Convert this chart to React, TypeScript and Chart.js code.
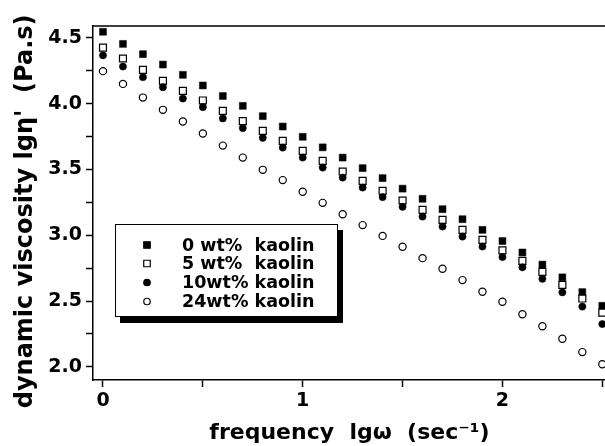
import React, { useEffect, useRef } from 'react';
import { Chart, registerables } from 'chart.js';

Chart.register(...registerables);

// lg(omega), sec^-1
const lgOmega = [0, 0.1, 0.2, 0.3, 0.4, 0.5, 0.6, 0.7, 0.8, 0.9, 1.0, 1.1, 1.2, 1.3, 1.4, 1.5, 1.6, 1.7, 1.8, 1.9, 2.0, 2.1, 2.2, 2.3, 2.4, 2.5];

// lg eta' (Pa.s)
const kaolin0 = [4.546, 4.454, 4.376, 4.297, 4.219, 4.138, 4.058, 3.983, 3.905, 3.826, 3.748, 3.668, 3.590, 3.510, 3.434, 3.354, 3.277, 3.198, 3.122, 3.041, 2.956, 2.869, 2.777, 2.680, 2.568, 2.464];
const kaolin5 = [4.426, 4.343, 4.257, 4.173, 4.097, 4.024, 3.945, 3.867, 3.793, 3.717, 3.641, 3.565, 3.484, 3.413, 3.337, 3.264, 3.193, 3.117, 3.041, 2.965, 2.885, 2.805, 2.722, 2.623, 2.519, 2.412];
const kaolin10 = [4.367, 4.282, 4.201, 4.125, 4.039, 3.973, 3.888, 3.814, 3.740, 3.666, 3.590, 3.514, 3.438, 3.362, 3.290, 3.216, 3.142, 3.066, 2.990, 2.914, 2.834, 2.756, 2.669, 2.566, 2.458, 2.325];
const kaolin24 = [4.247, 4.150, 4.046, 3.953, 3.864, 3.773, 3.681, 3.590, 3.497, 3.419, 3.330, 3.246, 3.160, 3.077, 2.995, 2.912, 2.826, 2.745, 2.659, 2.571, 2.495, 2.400, 2.309, 2.213, 2.112, 2.020];

const seriesLabels = ['0 wt%  kaolin', '5 wt%  kaolin', '10wt% kaolin', '24wt% kaolin'];

const xTicks = [0, 0.5, 1, 1.5, 2, 2.5];
const yTicks = [2.0, 2.25, 2.5, 2.75, 3.0, 3.25, 3.5, 3.75, 4.0, 4.25, 4.5];

const xTitle = 'frequency  lgω  (sec⁻¹)';
const yTitle = "dynamic viscosity lgη'  (Pa.s)  ";

const FONT = "'DejaVu Sans', 'Liberation Sans', sans-serif";

function drawMarker(ctx: CanvasRenderingContext2D, style: string, filled: boolean, x: number, y: number, size: number) {
  ctx.save();
  ctx.lineWidth = 1.2;
  ctx.strokeStyle = '#000';
  ctx.fillStyle = filled ? '#000' : '#fff';
  ctx.beginPath();
  if (style === 'rect') {
    ctx.rect(x - size / 2, y - size / 2, size, size);
  } else {
    ctx.arc(x, y, size / 2, 0, Math.PI * 2);
  }
  ctx.fill();
  ctx.stroke();
  ctx.restore();
}

const framePlugin = {
  id: 'frame',
  beforeDatasetsDraw(chart: any) {
    const { ctx, chartArea } = chart;
    ctx.save();
    ctx.strokeStyle = '#000';
    ctx.lineWidth = 1.5;
    ctx.beginPath();
    ctx.moveTo(chartArea.left, chartArea.top);
    ctx.lineTo(chartArea.right, chartArea.top);
    ctx.lineTo(chartArea.right, chartArea.bottom);
    ctx.stroke();
    ctx.restore();
  },
};

const boxLegendPlugin = {
  id: 'boxLegend',
  afterDatasetsDraw(chart: any) {
    const { ctx, chartArea } = chart;
    const x0 = chartArea.left + 22;
    const y0 = chartArea.top + 198;
    const w = 223;
    const h = 93;
    ctx.save();
    ctx.fillStyle = '#000';
    ctx.fillRect(x0 + 5, y0 + 6, w, h);
    ctx.fillStyle = '#fff';
    ctx.fillRect(x0, y0, w, h);
    ctx.strokeStyle = '#000';
    ctx.lineWidth = 1;
    ctx.strokeRect(x0 + 0.5, y0 + 0.5, w - 1, h - 1);
    const rows = [21, 39.5, 58.5, 77.5];
    chart.data.datasets.forEach((ds: any, i: number) => {
      const cy = y0 + rows[i];
      drawMarker(ctx, ds.pointStyle, ds.backgroundColor === '#000', x0 + 32, cy, 6.5);
      ctx.fillStyle = '#000';
      ctx.font = `bold 17.5px ${FONT}`;
      ctx.textBaseline = 'middle';
      ctx.textAlign = 'left';
      ctx.fillText(ds.label, x0 + 67, cy + 1);
    });
    ctx.restore();
  },
};

export default function App() {
  const canvasRef = useRef<HTMLCanvasElement | null>(null);

  useEffect(() => {
    if (!canvasRef.current) return;
    const toPts = (ys: number[]) => lgOmega.map((x, i) => ({ x, y: ys[i] }));
    const tickFont = { family: FONT, size: 19, weight: 'bold' as const };
    const chart = new Chart(canvasRef.current, {
      type: 'scatter',
      data: {
        datasets: [
          { label: seriesLabels[0], data: toPts(kaolin0), pointStyle: 'rect', pointRadius: 4.9, backgroundColor: '#000', borderColor: '#000', borderWidth: 0.5, order: 3, clip: false },
          { label: seriesLabels[1], data: toPts(kaolin5), pointStyle: 'rect', pointRadius: 4.9, backgroundColor: '#fff', borderColor: '#000', borderWidth: 1.2, order: 2, clip: false },
          { label: seriesLabels[2], data: toPts(kaolin10), pointStyle: 'circle', pointRadius: 3.6, backgroundColor: '#000', borderColor: '#000', borderWidth: 0.5, order: 1, clip: false },
          { label: seriesLabels[3], data: toPts(kaolin24), pointStyle: 'circle', pointRadius: 3.6, backgroundColor: '#fff', borderColor: '#000', borderWidth: 1.2, order: 0, clip: false },
        ],
      },
      options: {
        animation: false,
        responsive: true,
        maintainAspectRatio: false,
        layout: { padding: { top: 26, right: 5, left: 0, bottom: 0 } },
        plugins: { legend: { display: false }, tooltip: { enabled: false } },
        scales: {
          x: {
            type: 'linear',
            min: -0.05,
            max: 2.518,
            afterBuildTicks: (s: any) => { s.ticks = xTicks.map((v) => ({ value: v })); },
            afterFit: (s: any) => { s.height = 66; },
            ticks: {
              color: '#000',
              font: tickFont,
              padding: 3,
              maxRotation: 0,
              autoSkip: false,
              callback: (v: any) => (Number.isInteger(Number(v)) ? String(v) : ''),
            },
            grid: { drawOnChartArea: false, drawTicks: true, tickLength: 7, tickWidth: 1.5, tickColor: '#000' },
            border: { display: true, color: '#000', width: 1.5 },
            title: { display: true, text: xTitle, color: '#000', font: { family: FONT, size: 22, weight: 'bold' }, padding: { top: 0, bottom: 0 } },
          },
          y: {
            type: 'linear',
            min: 1.9,
            max: 4.59,
            afterBuildTicks: (s: any) => { s.ticks = yTicks.map((v) => ({ value: v })); },
            afterFit: (s: any) => { s.width = 93; },
            ticks: {
              color: '#000',
              font: tickFont,
              padding: 4,
              autoSkip: false,
              callback: (v: any) => {
                const n = Number(v);
                return Math.abs(n * 2 - Math.round(n * 2)) < 1e-6 ? n.toFixed(1) : '';
              },
            },
            grid: { drawOnChartArea: false, drawTicks: true, tickLength: 7, tickWidth: 1.5, tickColor: '#000' },
            border: { display: true, color: '#000', width: 1.5 },
            title: { display: true, text: yTitle, color: '#000', font: { family: FONT, size: 24, weight: 'bold' }, padding: { top: 11, bottom: 0 } },
          },
        },
      },
      plugins: [framePlugin, boxLegendPlugin],
    });
    return () => chart.destroy();
  }, []);

  return (
    <div style={{ position: 'fixed', left: 0, top: 0, width: 605, height: 446, overflow: 'hidden', background: '#fff' }}>
      <div style={{ position: 'relative', width: 612, height: 446 }}>
        <canvas ref={canvasRef} />
      </div>
    </div>
  );
}
